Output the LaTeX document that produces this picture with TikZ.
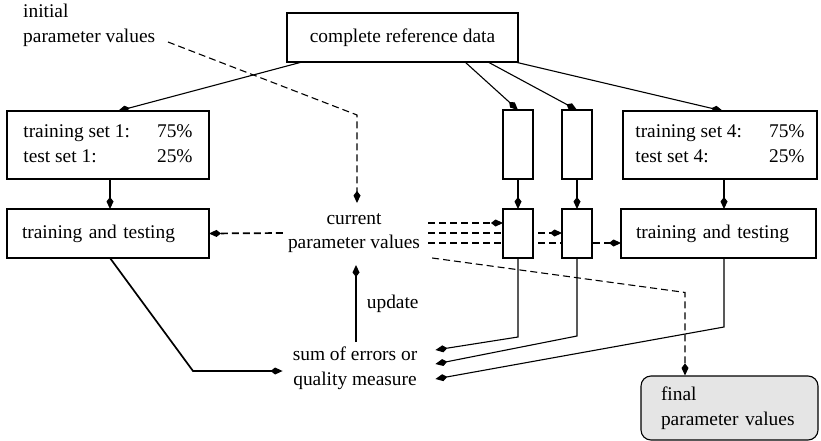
\documentclass[tikz,border=0pt]{standalone}
\usepackage{fontspec}
\setmainfont{Liberation Serif}
\usetikzlibrary{arrows.meta,calc}
\pgfdeclarelayer{background}
\pgfsetlayers{background,main}
\begin{document}
\begin{tikzpicture}[x=1pt,y=-1pt,
  every node/.style={font=\rmfamily\fontsize{19.4}{24.5}\selectfont},
  box/.style={draw, fill=white, line width=1.1pt, inner sep=0pt, outer sep=0pt},
  tip/.style={-{Kite[length=12pt,width=7pt,inset=4.5pt]}},
  thinline/.style={line width=1.1pt},
  thickline/.style={line width=1.7pt},
  dashline/.style={dash pattern=on 7pt off 4pt},
  splitbox/.style={box, minimum width=30pt}
]
\useasboundingbox (0,0) rectangle (821,441);

% data source and the four splits
\node[box, minimum width=231pt, minimum height=49pt] (ref) at (402.5,37.5) {complete reference data};
\node[box, minimum width=202pt, minimum height=68pt] (ts1) at (108,145)
  {\begin{tabular}{@{}l@{\hspace{27pt}}r@{}}training set 1: & 75\%\\ test set 1: & 25\%\end{tabular}};
\node[box, minimum width=194pt, minimum height=68pt] (ts4) at (720,145)
  {\begin{tabular}{@{}l@{\hspace{27pt}}r@{}}training set 4: & 75\%\\ test set 4: & 25\%\end{tabular}};
\node[splitbox, minimum height=69pt] (sa1) at (518,144.5) {};
\node[splitbox, minimum height=69pt] (sb1) at (577,144.5) {};

% training stage
\node[box, minimum width=202pt, minimum height=49pt, text width=172pt, inner xsep=15pt, align=left] (tt1) at (108,233.5) {training and testing};
\node[splitbox, minimum height=49pt] (sa2) at (518,233.5) {};
\node[splitbox, minimum height=49pt] (sb2) at (577,233.5) {};
\node[box, minimum width=195pt, minimum height=49pt, text width=165pt, inner xsep=15pt, align=left] (tt4) at (718.5,233.5) {training and testing};

% parameters and evaluation
\node[align=left, inner sep=0pt, anchor=west] (init) at (23,25.5) {initial\\parameter values};
\node[align=center, inner sep=0pt] (cur) at (354,233) {current\\parameter values};
\node[align=center, inner sep=0pt] (sum) at (355,368.5) {sum of errors or\\quality measure};
\node[draw, fill=gray!20, rounded corners=10pt, line width=1.1pt, minimum width=177pt, minimum height=64pt,
      text width=137pt, inner xsep=20pt, inner ysep=0pt, align=left] (fin) at (729.5,408) {final\\parameter values};
\coordinate (initEnd) at (168,42);

\begin{pgfonlayer}{background}
  % splitting the reference data
  \draw[tip, thinline] ($(ref.south west)+(15,0)$) -- ($(ts1.north)+(10,0)$);
  \draw[tip, thinline] ($(ref.south east)+(-53,0)$) -- (sa1.north);
  \draw[tip, thinline] ($(ref.south east)+(-30,0)$) -- (sb1.north);
  \draw[tip, thinline] ($(ref.south east)+(-3,0)$) -- ($(ts4.north)+(3,0)$);

  % sets into training
  \draw[tip, thinline] ($(ts1.south)+(2,0)$) coordinate (c1) -- (c1 |- tt1.north);
  \draw[tip, thinline] (sa1.south) -- (sa2.north);
  \draw[tip, thinline] (sb1.south) -- (sb2.north);
  \draw[tip, thinline] ($(ts4.south)+(4,0)$) coordinate (c4) -- (c4 |- tt4.north);

  % errors collected
  \draw[tip, thickline] ($(tt1.south)+(2,0)$) -- ++(83,113) -- ($(sum.west)+(-10,2.5)$);
  \draw[tip, thinline] (sa2.south) -- ++(0,79) -- ($(sum.east)+(18,-18.5)$);
  \draw[tip, thinline] (sb2.south) -- ++(0,78) -- ($(sum.east)+(18,-4.5)$);
  \draw[tip, thinline] ($(tt4.south)+(5.5,0)$) -- ++(0,69) -- ($(sum.east)+(18,10.5)$);

  % parameter update loop
  \draw[tip, thickline] ($(sum.center)+(1,-26.5)$) -- ($(cur.center)+(2,32)$)
    node (upd) [midway, anchor=west, xshift=10pt, inner sep=0pt] {update};
  \draw[tip, thinline, dashline] (initEnd) -- (357,115) -- ($(cur.center)+(3,-30)$);

  % parameters handed to every training run
  \draw[tip, thickline, dashline] ($(cur.west)+(-5,0)$) -- (tt1.east);
  \draw[tip, thinline, dashline] ($(cur.east)+(8,-10)$) coordinate (d1) -- (d1 -| sa2.west);
  \draw[tip, thinline, dashline] ($(cur.east)+(8,0)$) coordinate (d2) -- (d2 -| sb2.west);
  \draw[tip, thinline, dashline] ($(cur.east)+(8,10)$) coordinate (d3) -- (d3 -| tt4.west);

  % final result
  \draw[tip, thinline, dashline] ($(cur.east)+(12,25)$) -- ($(fin.north)+(-44.5,-83)$) -- ($(fin.north)+(-44.5,0)$);
\end{pgfonlayer}
\end{tikzpicture}
\end{document}
